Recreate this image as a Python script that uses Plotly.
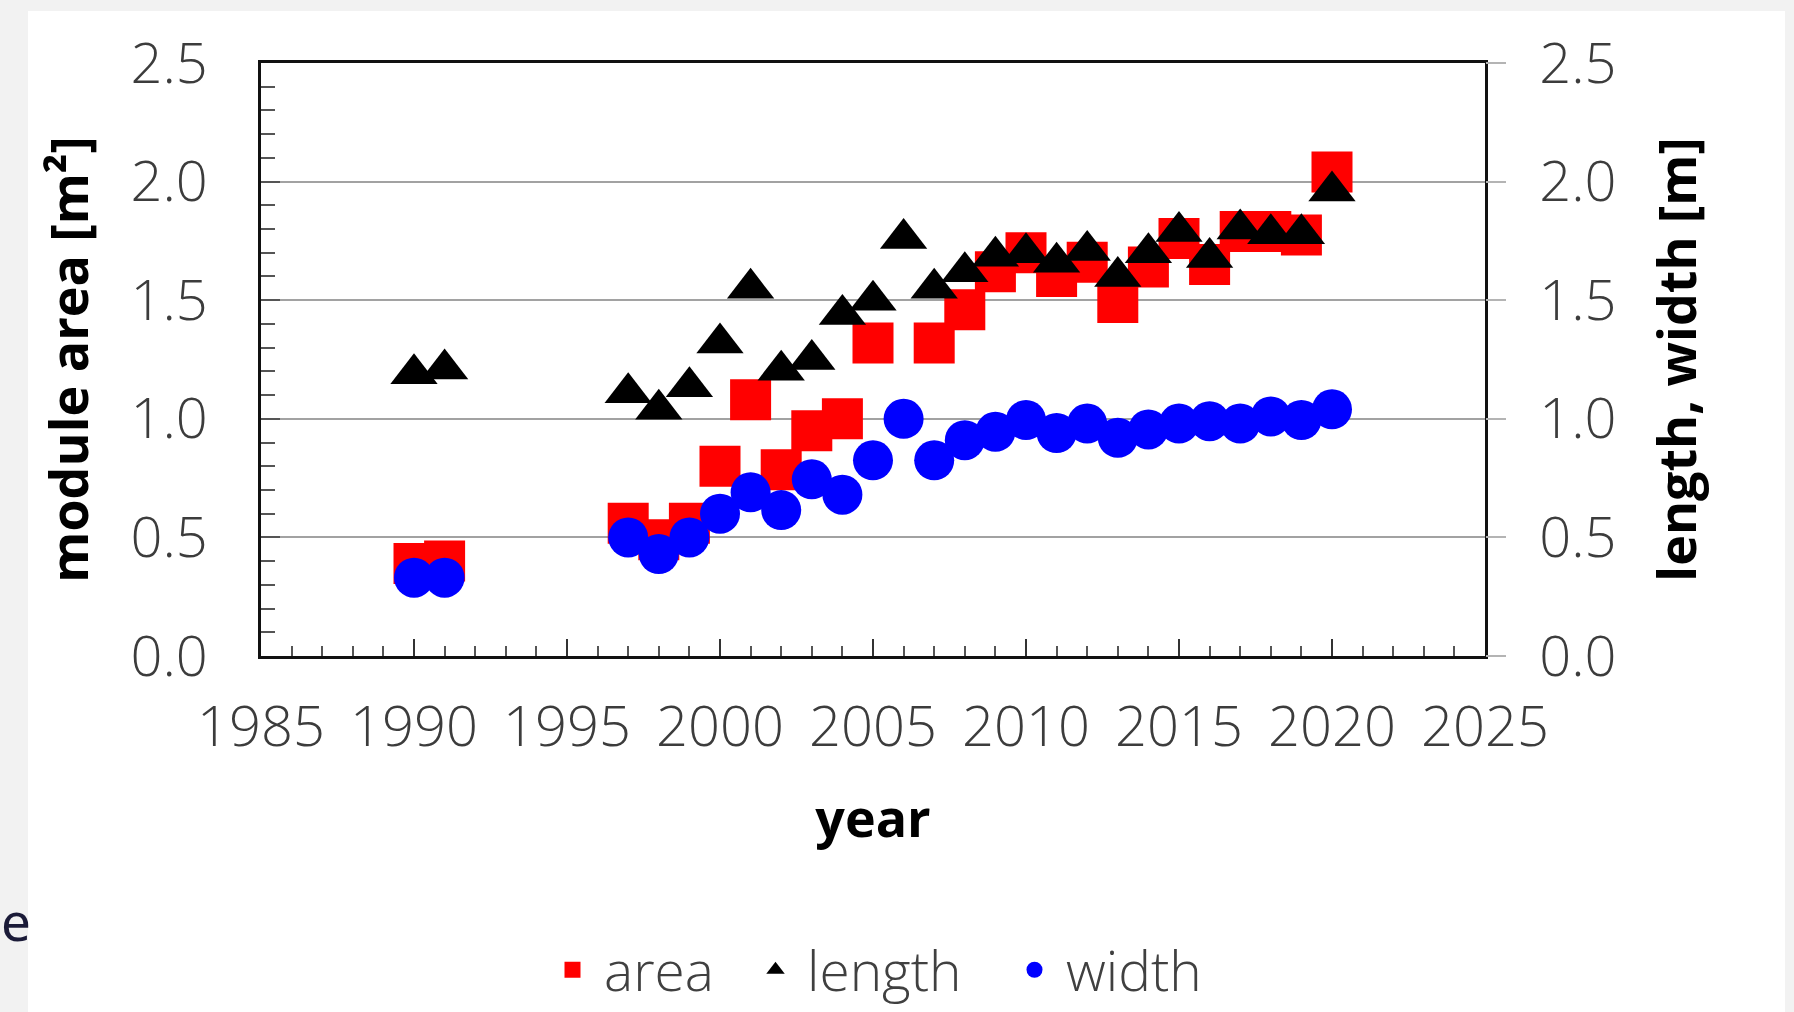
import plotly.graph_objects as go

years = [1990, 1991, 1997, 1998, 1999, 2000, 2001, 2002, 2003, 2004, 2005, 2006, 2007,
         2008, 2009, 2010, 2011, 2012, 2013, 2014, 2015, 2016, 2017, 2018, 2019, 2020]
area = [0.39, 0.40, 0.56, 0.49, 0.56, 0.80, 1.08, 0.785, 0.95, 1.00, 1.32, None, 1.32,
        1.46, 1.62, 1.70, 1.60, 1.66, 1.49, 1.64, 1.76, 1.65, 1.79, 1.79, 1.775, 2.04]
length = [1.19, 1.21, 1.11, 1.04, 1.135, 1.32, 1.55, 1.205, 1.25, 1.44, 1.50, 1.76, 1.55,
          1.62, 1.685, 1.70, 1.66, 1.71, 1.60, 1.70, 1.79, 1.68, 1.80, 1.78, 1.78, 1.96]
width = [0.33, 0.33, 0.50, 0.43, 0.50, 0.60, 0.69, 0.615, 0.745, 0.68, 0.825, 1.00, 0.825,
         0.91, 0.945, 0.995, 0.94, 0.98, 0.92, 0.955, 0.98, 0.99, 0.98, 1.01, 0.995, 1.04]

x_ticks = [1985, 1990, 1995, 2000, 2005, 2010, 2015, 2020, 2025]
y_ticks = [0.0, 0.5, 1.0, 1.5, 2.0, 2.5]
y_ticktext = ["0.0", "0.5", "1.0", "1.5", "2.0", "2.5"]

W, H = 1794, 1012
L, R, T, B = 261, 309, 63, 356
pw, ph = W - L - R, H - T - B


def px(xp):
    return (xp - L) / pw


def py(yp):
    return (H - B - yp) / ph


tick_font = dict(family="Open Sans", size=56, color="#3c3c3c", weight=300)
title_font = dict(family="Open Sans", size=52, color="#000000", weight="bold")
legend_font = dict(family="Open Sans", size=55, color="#404040", weight=300)

fig = go.Figure()
fig.add_trace(go.Scatter(
    x=years, y=area, name="area", mode="markers",
    marker=dict(symbol="square", size=41, color="#ff0000", line=dict(width=0)),
    yaxis="y", legend="legend"))
fig.add_trace(go.Scatter(
    x=years, y=length, name="length", mode="markers",
    marker=dict(symbol="triangle-up", size=41, color="#000000", line=dict(width=0)),
    yaxis="y2", legend="legend2"))
fig.add_trace(go.Scatter(
    x=years, y=width, name="width", mode="markers",
    marker=dict(symbol="circle", size=40, color="#0000ff", line=dict(width=0)),
    yaxis="y2", legend="legend3"))


def leg(cx):
    return dict(orientation="h", x=px(cx - 34), xanchor="left", y=py(970), yanchor="middle",
                font=legend_font, bgcolor="rgba(0,0,0,0)", itemsizing="trace", itemwidth=53)


fig.update_layout(
    width=W, height=H,
    margin=dict(l=L, r=R, t=T, b=B, pad=0, autoexpand=False),
    paper_bgcolor="#f2f2f2",
    plot_bgcolor="#ffffff",
    showlegend=True,
    legend=leg(575),
    legend2=leg(778),
    legend3=leg(1037),
    xaxis=dict(
        range=[1985, 2025], tickvals=x_ticks, ticktext=[str(v) for v in x_ticks],
        ticks="inside", ticklen=17, tickwidth=2, tickcolor="#333333",
        minor=dict(dtick=1, tick0=1985, ticks="inside", ticklen=10, tickwidth=2, tickcolor="#555555"),
        showline=True, linecolor="#111111", linewidth=3, mirror=True,
        showgrid=False, zeroline=False, automargin=False,
        tickfont=tick_font, ticklabelstandoff=20,
        title=dict(text="year", font=title_font, standoff=40),
    ),
    yaxis=dict(
        range=[0, 2.5], tickvals=y_ticks, ticktext=y_ticktext,
        ticks="inside", ticklen=19, tickwidth=2, tickcolor="#555555",
        minor=dict(dtick=0.1, tick0=0, ticks="inside", ticklen=14, tickwidth=2, tickcolor="#555555"),
        showline=True, linecolor="#111111", linewidth=3, mirror=True,
        showgrid=True, gridcolor="#a2a2a2", gridwidth=2, zeroline=False, automargin=False,
        tickfont=tick_font, ticklabelstandoff=39,
        title=dict(text="module area [m²]", font=title_font, standoff=26),
    ),
    yaxis2=dict(
        range=[0, 2.5], tickvals=y_ticks, ticktext=y_ticktext,
        overlaying="y", side="right",
        ticks="outside", ticklen=20, tickwidth=2, tickcolor="#b4b4b4",
        showline=False, showgrid=False, zeroline=False, automargin=False,
        tickfont=tick_font, ticklabelstandoff=22,
        title=dict(text="length, width [m]", font=title_font, standoff=44),
    ),
    shapes=[dict(type="rect", xref="paper", yref="paper",
                 x0=px(28), x1=px(1785), y0=py(H + 5), y1=py(11),
                 fillcolor="#ffffff", line=dict(width=0), layer="below")],
    annotations=[dict(text="e", xref="paper", yref="paper", x=px(0), y=py(920),
                      xanchor="left", yanchor="middle", showarrow=False, borderpad=0,
                      font=dict(family="Noto Sans", size=53, color="#1b1b38"))],
)

fig.write_html(
    "out.html",
    config={"displayModeBar": False},
    post_script="document.body.style.margin='0';document.body.style.background='#f2f2f2';"
                "document.body.style.overflow='hidden';",
)
